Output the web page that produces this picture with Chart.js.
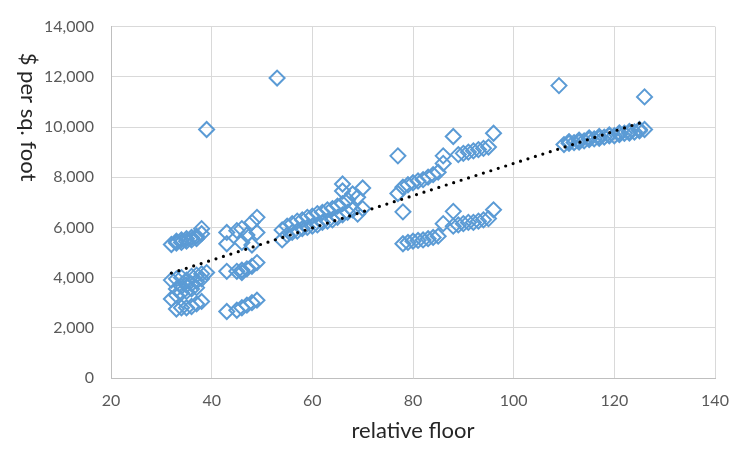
<!DOCTYPE html>
<html>
<head>
<meta charset="utf-8">
<script src="https://cdn.jsdelivr.net/npm/chart.js@4/dist/chart.umd.min.js"></script>
<style>
  html, body { margin: 0; padding: 0; background: #fff; }
  #wrap { width: 750px; height: 455px; }
</style>
</head>
<body>
<div id="wrap"><canvas id="floorChart" width="750" height="455"></canvas></div>
<script>
// relative floor vs $ per sq. foot
var floors = [
    32, 33, 33, 34, 34, 35, 35, 36, 36, 37, 37, 38, 38,
    32, 33, 34, 35, 36, 37, 38, 39,
    33, 34, 35, 36, 37, 38,
    32, 33, 34, 35, 36, 37,
    33, 34, 35, 36, 37, 38,
    39,
    43, 43, 45, 46, 46, 48, 48, 49, 49, 47,
    43, 45, 46, 46, 47, 48, 49,
    43, 45, 46, 47, 48, 49,
    53,
    54, 54, 55, 55, 56, 56, 57, 57, 58, 58, 59, 59, 60, 60, 61, 61, 62, 62,
    63, 63, 64, 64, 65, 65, 66, 66, 66, 66, 67, 67, 68, 68, 69, 69, 70, 70,
    77, 77, 78, 79, 80, 81, 82, 83, 84, 85, 86, 86, 88, 89, 90, 91, 92, 93, 94, 95, 96,
    78, 78, 79, 80, 81, 82, 83, 84, 85, 86, 88, 88, 89, 90, 91, 92, 93, 94, 95, 96,
    109, 126,
    110, 111, 112, 113, 114, 115, 116, 117, 118, 119, 120, 121, 122, 123, 124, 125, 126,
    111, 113, 115, 117, 119, 121, 123, 125
];
var pricePerSqFt = [
    5320, 5380, 5450, 5400, 5500, 5450, 5550, 5500, 5600, 5550, 5650, 5750, 5950,
    3900, 3950, 4000, 3900, 4050, 4100, 4150, 4200,
    3550, 3650, 3700, 3750, 3850, 3950,
    3150, 3300, 3400, 3450, 3550, 3600,
    2750, 2800, 2800, 2850, 2950, 3050,
    9900,
    5800, 5350, 5870, 5950, 5400, 6200, 5300, 6400, 5800, 5700,
    4250, 4250, 4300, 4200, 4350, 4450, 4600,
    2650, 2700, 2800, 2900, 3000, 3100,
    11950,
    5500, 5900, 5700, 6050, 5800, 6150, 5850, 6250, 5950, 6300, 6000, 6400, 6050, 6450, 6100, 6550, 6200, 6600,
    6250, 6700, 6300, 6750, 6400, 6850, 6500, 6950, 7450, 7730, 6600, 7100, 6700, 7330, 6530, 7200, 6750, 7570,
    7350, 8850, 7600, 7700, 7780, 7850, 7900, 8000, 8100, 8200, 8550, 8850, 9620, 8900, 8950, 9000, 9050, 9100, 9150, 9200, 9750,
    6620, 5350, 5400, 5450, 5480, 5500, 5550, 5600, 5650, 6150, 6640, 6050, 6100, 6150, 6200, 6200, 6250, 6300, 6350, 6700,
    11650, 11200,
    9300, 9350, 9380, 9400, 9450, 9500, 9530, 9550, 9600, 9650, 9650, 9700, 9750, 9760, 9800, 9850, 9900,
    9420, 9480, 9570, 9620, 9680, 9760, 9820, 9900
];

// dotted linear trend line, end points
var trendFloors = [32, 126];
var trendPrices = [4180, 10220];

var xTicks = [20, 40, 60, 80, 100, 120, 140];
var yTicks = [0, 2000, 4000, 6000, 8000, 10000, 12000, 14000];

var tickFont = { family: 'Lato, "Liberation Sans", sans-serif', size: 16 };
var titleFont = { family: 'Lato, "Liberation Sans", sans-serif', size: 22 };

var points = floors.map(function (f, i) { return { x: f, y: pricePerSqFt[i] }; });
var trend = trendFloors.map(function (f, i) { return { x: f, y: trendPrices[i] }; });

// y axis title sits above the middle in the original, so it is drawn here
var yTitlePlugin = {
    id: 'yTitle',
    afterDraw: function (chart) {
        var ctx = chart.ctx;
        ctx.save();
        ctx.translate(28, 117);
        ctx.rotate(Math.PI / 2);
        ctx.font = titleFont.size + 'px ' + titleFont.family;
        ctx.fillStyle = '#262626';
        ctx.textAlign = 'center';
        ctx.textBaseline = 'middle';
        ctx.fillText('$ per sq. foot', 0, 0);
        ctx.restore();
    }
};

var ctx = document.getElementById('floorChart').getContext('2d');
new Chart(ctx, {
    type: 'scatter',
    data: {
        datasets: [{
            label: 'trend',
            data: trend,
            showLine: true,
            borderColor: '#000000',
            borderWidth: 3.2,
            borderDash: [0, 7.8],
            borderCapStyle: 'round',
            pointRadius: 0,
            order: 0
        }, {
            label: 'price',
            data: points,
            pointStyle: 'rectRot',
            pointRadius: 7.5,
            pointBorderWidth: 2,
            pointBorderColor: '#5B9BD5',
            pointBackgroundColor: 'rgba(0,0,0,0)',
            order: 1
        }]
    },
    options: {
        responsive: false,
        animation: false,
        layout: { padding: { top: 14, right: 35, left: 0, bottom: 0 } },
        plugins: {
            legend: { display: false },
            tooltip: { enabled: false }
        },
        scales: {
            x: {
                type: 'linear',
                min: xTicks[0],
                max: xTicks[xTicks.length - 1],
                afterBuildTicks: function (scale) {
                    scale.ticks = xTicks.map(function (v) { return { value: v }; });
                },
                afterFit: function (scale) { scale.height = 77; },
                ticks: { color: '#595959', font: tickFont, padding: 13 },
                grid: { color: '#D9D9D9', drawTicks: false },
                border: { color: '#BFBFBF' },
                title: {
                    display: true,
                    text: 'relative floor',
                    color: '#262626',
                    font: titleFont,
                    padding: { top: 4, bottom: 11 }
                }
            },
            y: {
                type: 'linear',
                min: yTicks[0],
                max: yTicks[yTicks.length - 1],
                afterBuildTicks: function (scale) {
                    scale.ticks = yTicks.map(function (v) { return { value: v }; });
                },
                afterFit: function (scale) { scale.width = 111; },
                ticks: {
                    color: '#595959',
                    font: tickFont,
                    padding: 17,
                    callback: function (v) { return v.toLocaleString('en-US'); }
                },
                grid: { color: '#D9D9D9', drawTicks: false },
                border: { color: '#BFBFBF' }
            }
        }
    },
    plugins: [yTitlePlugin]
});
</script>
</body>
</html>
